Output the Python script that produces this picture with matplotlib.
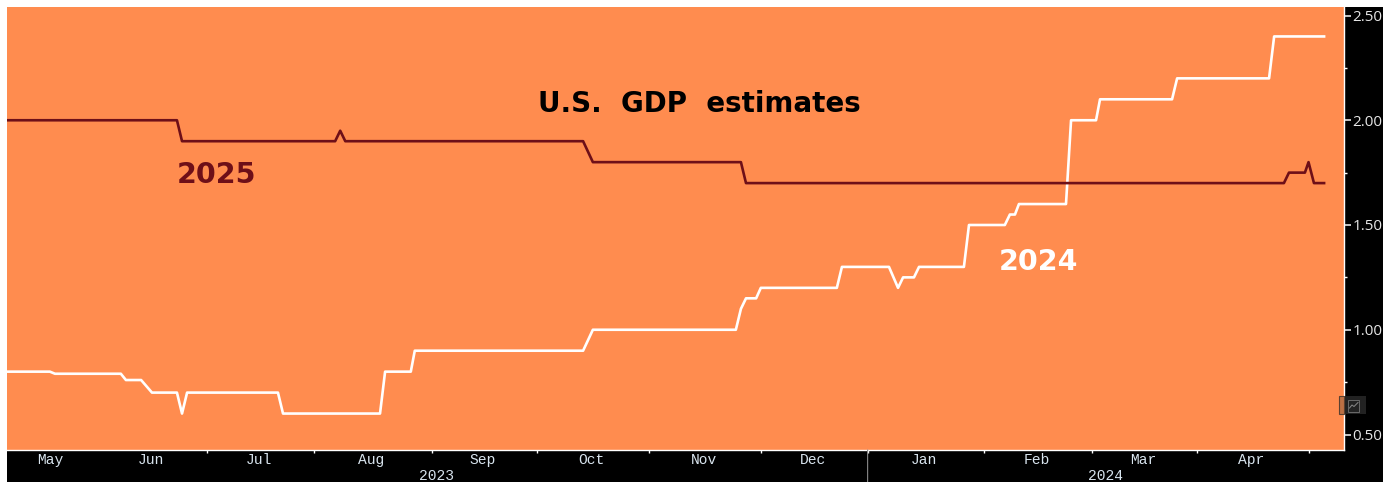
import pandas as pd
import matplotlib
matplotlib.use("Agg")
import matplotlib.pyplot as plt
from matplotlib.lines import Line2D
from matplotlib.patches import Rectangle

# --- Data (days counted from 1 Jun 2023) ---
days_2024 = [-24.8, -12.9, -11.5, 6.7, 8.1, 12.3, 15.3, 22.2, 23.6, 25.0, 50.1, 51.5,
             78.3, 79.7, 86.8, 87.9, 134.4, 137.1, 176.6, 178.0, 179.4, 182.2, 183.5,
             204.5, 205.9, 218.9, 221.4, 222.8, 225.8, 227.2, 239.6, 241.0, 250.9,
             252.3, 253.7, 254.8, 267.8, 269.2, 276.1, 277.2, 297.1, 298.5, 323.9,
             325.3, 339.1]
gdp_2024 = [0.80, 0.80, 0.79, 0.79, 0.76, 0.76, 0.70, 0.70, 0.60, 0.70, 0.70, 0.60,
            0.60, 0.80, 0.80, 0.90, 0.90, 1.00, 1.00, 1.10, 1.15, 1.15, 1.20,
            1.20, 1.30, 1.30, 1.20, 1.25, 1.25, 1.30, 1.30, 1.50, 1.50,
            1.55, 1.55, 1.60, 1.60, 2.00, 2.00, 2.10, 2.10, 2.20, 2.20,
            2.40, 2.40]
days_2025 = [-24.8, 22.2, 23.6, 65.9, 67.3, 68.7, 134.4, 137.1, 178.0, 179.4,
             328.0, 329.4, 333.8, 334.8, 336.3, 339.1]
gdp_2025 = [2.00, 2.00, 1.90, 1.90, 1.95, 1.90, 1.90, 1.80, 1.80, 1.70,
            1.70, 1.75, 1.75, 1.80, 1.70, 1.70]
y_ticks = [0.50, 1.00, 1.50, 2.00, 2.50]
y_minor = [0.75, 1.25, 1.75, 2.25]

# month boundaries, as placed on the original axis
month_days = [0, 30.6, 60.1, 92.6, 121.7, 152.7, 183.6, 213, 245.1, 274.9, 304, 334.9]
month_names = ["May", "Jun", "Jul", "Aug", "Sep", "Oct", "Nov", "Dec", "Jan", "Feb", "Mar", "Apr"]
year_days = [(93.8, "2023"), (278.8, "2024")]
year_split = 213

start = pd.Timestamp("2023-06-01")
xmin, xmax = -24.75, 344.6


def to_date(days):
    return start + pd.to_timedelta(days, unit="D")


ORANGE = "#ff8c4f"
MAROON = "#6e0f18"
AXIS_TEXT = "#d8e4ee"

W, H = 1389, 482
fig = plt.figure(figsize=(W / 100, H / 100), dpi=100, facecolor="white")
# black frame behind the plot area
fig.add_artist(Rectangle((7 / W, 0), (1383 - 7) / W, 1 - 7 / H, transform=fig.transFigure,
                         facecolor="black", edgecolor="none", zorder=-1))
ax = fig.add_axes([7 / W, 1 - 450 / H, (1344 - 7) / W, (450 - 7) / H], facecolor=ORANGE)

ax.plot(to_date(days_2024), gdp_2024, color="white", lw=1.9)
ax.plot(to_date(days_2025), gdp_2025, color=MAROON, lw=1.9)

ax.set_xlim(to_date(xmin), to_date(xmax))
ax.set_ylim(0.5 - (450 - 434.5) / 209.5, 0.5 + (434.5 - 7) / 209.5)

for s in ["top", "left"]:
    ax.spines[s].set_visible(False)
for s in ["bottom", "right"]:
    ax.spines[s].set_color("white")
    ax.spines[s].set_linewidth(1)

# --- Axes ticks ---
ax.yaxis.tick_right()
ax.set_yticks(y_ticks)
ax.set_yticks(y_minor, minor=True)
ax.set_yticklabels([f"{v:.2f}" for v in y_ticks])
ax.tick_params(axis="y", which="major", colors="#e6e6e6", length=5, width=1.2, pad=1,
               labelsize=11, labelfontfamily="Open Sans")
ax.tick_params(axis="y", which="minor", colors="white", length=2, width=1)

ax.set_xticks(to_date(month_days[1:]))
ax.set_xticklabels([])
ax.tick_params(axis="x", which="major", colors="white", length=2, width=1, direction="out")

# month labels sit in the middle of each month's span
edges = [xmin] + month_days
for a, b, name in zip(edges[:-1], edges[1:], month_names):
    ax.annotate(name, (to_date((a + b) / 2), 0), xycoords=("data", "axes fraction"),
                xytext=(-1, -7.5), textcoords="offset points", color=AXIS_TEXT, fontsize=10.5,
                family="Liberation Mono", ha="center", va="center", annotation_clip=False)

# year row
for d, txt in year_days:
    ax.annotate(txt, (to_date(d), 0), xycoords=("data", "axes fraction"), xytext=(0, -18.5),
                textcoords="offset points", color=AXIS_TEXT, fontsize=10.5,
                family="Liberation Mono", ha="center", va="center", annotation_clip=False)
ax.annotate("", (to_date(year_split), 0), xycoords=("data", "axes fraction"), xytext=(0, -23),
            textcoords="offset points", annotation_clip=False,
            arrowprops=dict(arrowstyle="-", color="#8a8a8a", lw=0.8, shrinkA=0, shrinkB=0))

# small chart-type button on the right edge
fig.add_artist(Rectangle((1344 / W, 1 - 414 / H), 22 / W, 18 / H, transform=fig.transFigure,
                         facecolor="#222222", edgecolor="none", zorder=5))
fig.add_artist(Rectangle((1338.5 / W, 1 - 414 / H), 5.5 / W, 18 / H, transform=fig.transFigure,
                         facecolor="#bd7044", edgecolor="#5a4030", lw=0.8, zorder=5))
fig.add_artist(Rectangle((1348 / W, 1 - 411.5 / H), 11 / W, 12 / H, transform=fig.transFigure,
                         facecolor="none", edgecolor="#6a6a6a", lw=0.7, zorder=6))
fig.add_artist(Line2D([1349.5 / W, 1352 / W, 1354 / W, 1358 / W],
                      [1 - 408 / H, 1 - 405 / H, 1 - 406.5 / H, 1 - 402.5 / H],
                      color="#8a8a8a", lw=0.7, zorder=6))

# labels drawn on the chart
fig.text(699 / W, 1 - 104 / H, "U.S.  GDP  estimates", color="black", fontsize=20, weight="bold",
         ha="center", va="center")
fig.text(216.5 / W, 1 - 175 / H, "2025", color=MAROON, fontsize=20.5, weight="bold",
         ha="center", va="center")
fig.text(1038.5 / W, 1 - 262 / H, "2024", color="white", fontsize=20.5, weight="bold",
         ha="center", va="center")

fig.savefig("out.png", dpi=100, facecolor=fig.get_facecolor())
